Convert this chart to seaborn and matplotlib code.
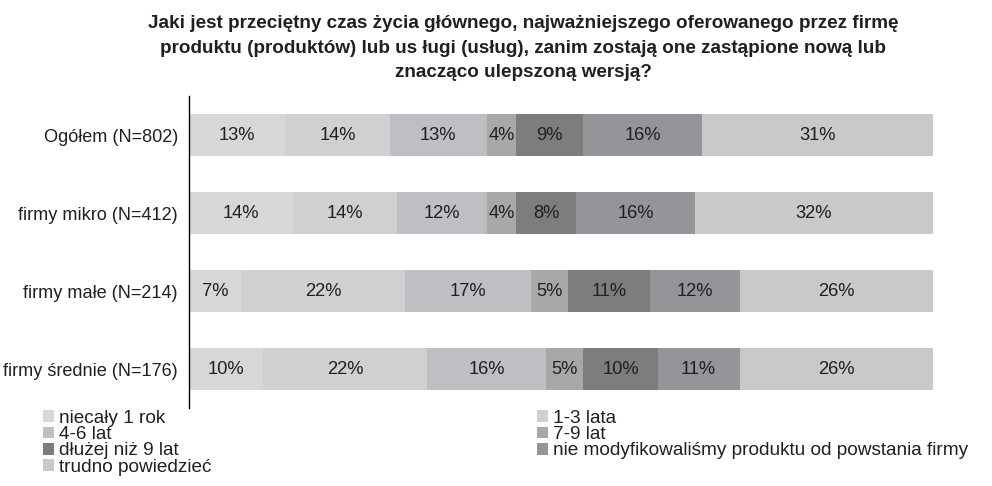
import numpy as np
import pandas as pd
import seaborn as sns
import matplotlib.pyplot as plt
from matplotlib.patches import Patch

# Data
groups = ['Ogółem (N=802)', 'firmy mikro (N=412)', 'firmy małe (N=214)', 'firmy średnie (N=176)']
answers = ['niecały 1 rok', '1-3 lata', '4-6 lat', '7-9 lat', 'dłużej niż 9 lat',
           'nie modyfikowaliśmy produktu od powstania firmy', 'trudno powiedzieć']
values_ogolem = [13, 14, 13, 4, 9, 16, 31]
values_mikro = [14, 14, 12, 4, 8, 16, 32]
values_male = [7, 22, 17, 5, 11, 12, 26]
values_srednie = [10, 22, 16, 5, 10, 11, 26]
colors = ['#d7d7d9', '#d0d0d2', '#bebfc2', '#a8a8ab', '#7d7d7f', '#949598', '#c8c9cb']

title = ('Jaki jest przeciętny czas życia głównego, najważniejszego oferowanego przez firmę\n'
         'produktu (produktów) lub us ługi (usług), zanim zostają one zastąpione nową lub\n'
         'znacząco ulepszoną wersją?')

text_color = '#231f20'

sns.set_style('white')
plt.rcParams['font.family'] = ['Liberation Sans', 'DejaVu Sans']

vals = np.array([values_ogolem, values_mikro, values_male, values_srednie])
cum = vals.cumsum(axis=1)

fig = plt.figure(figsize=(9.92, 4.86), dpi=100)
ax = fig.add_axes([189 / 992, 1 - 408 / 486, 744 / 992, 312 / 486])

# stacked bars: draw cumulative totals from the longest to the shortest
for i in range(len(answers) - 1, -1, -1):
    df = pd.DataFrame({'group': groups, 'total': cum[:, i]})
    sns.barplot(data=df, x='total', y='group', order=groups, color=colors[i],
                saturation=1, width=0.535, ax=ax, linewidth=0)

# percentage labels
for g in range(len(groups)):
    for i in range(len(answers)):
        center = cum[g, i] - vals[g, i] / 2
        ax.text(center, g, f'{vals[g, i]}%', ha='center', va='center',
                fontsize=13.2, color=text_color)

ax.set_xlim(0, 100)
ax.set_ylim(3.5, -0.5)
ax.set_xlabel('')
ax.set_ylabel('')
ax.set_xticks([])
ax.set_yticks(range(len(groups)))
ax.set_yticklabels(groups, fontsize=13.1, color=text_color)
ax.tick_params(axis='y', which='major', length=0, pad=8)
ax.set_yticks(np.arange(-0.5, 4, 1), minor=True)
ax.tick_params(axis='y', which='minor', length=6, width=1, color='black', direction='out')

for side in ['top', 'right', 'bottom']:
    ax.spines[side].set_visible(False)
ax.spines['left'].set_color('black')
ax.spines['left'].set_linewidth(1)

fig.text(523 / 992, 1 - 15 / 486, title, ha='center', va='top', fontsize=13.6,
         fontweight='bold', color=text_color, linespacing=1.58)

# legend: left column gets items 0,2,4,6 and right column 1,3,5
handles = [Patch(facecolor=c, edgecolor='none') for c in colors]
order = [0, 2, 4, 6, 1, 3, 5]
fig.legend([handles[i] for i in order], [answers[i] for i in order], ncol=2,
           loc='upper left', bbox_to_anchor=(43 / 992, 1 - 410 / 486),
           frameon=False, fontsize=13.7, borderpad=0, borderaxespad=0,
           handlelength=0.58, handleheight=0.58, handletextpad=0.26,
           labelspacing=-0.04, columnspacing=17.1, labelcolor=text_color)

fig.savefig('out.png', dpi=100)
